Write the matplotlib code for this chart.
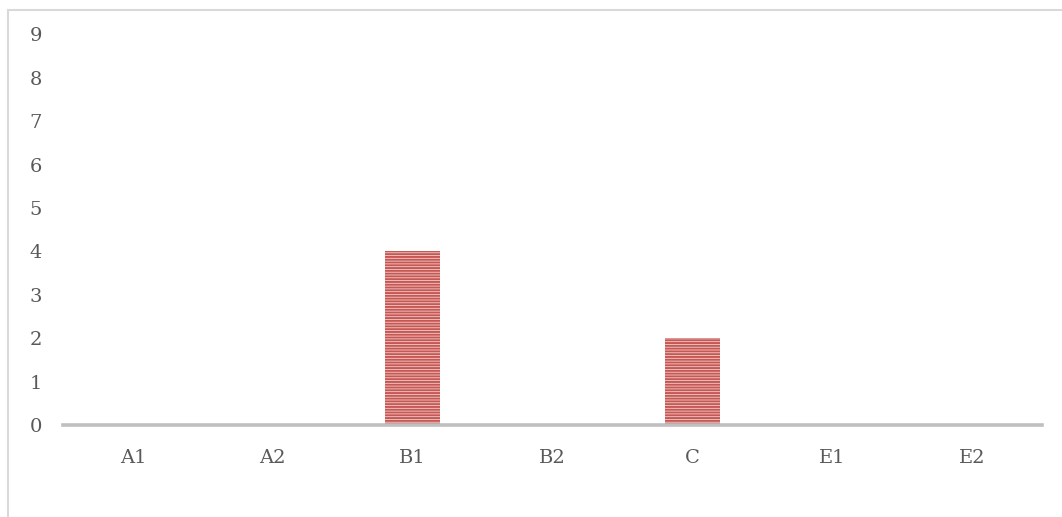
import matplotlib
matplotlib.use("Agg")
import matplotlib.pyplot as plt
from matplotlib.patches import Rectangle

categories = ["A1", "A2", "B1", "B2", "C", "E1", "E2"]
values = [0, 0, 4, 0, 2, 0, 0]
y_ticks = list(range(0, 10))

W, H = 1062, 517
fig = plt.figure(figsize=(W / 100, H / 100), dpi=100)
fig.patch.set_facecolor("white")

# outer chart frame (runs off the right and bottom edges)
fig.patches.append(Rectangle((7.5 / W, -0.1), 1.2, 1 - 9.5 / H + 0.1,
                             transform=fig.transFigure, fill=False,
                             edgecolor="#d9d9d9", linewidth=1.5))

left, right, top, base = 63, 1042, 34.4, 425
ax = fig.add_axes([left / W, 1 - base / H, (right - left) / W, (base - top) / H])
ax.set_facecolor("none")

x = list(range(len(categories)))
plt.rcParams["hatch.linewidth"] = 1.4
ax.bar(x, values, width=0.39, facecolor="#f2cfce", edgecolor="#c65753",
       hatch="------", linewidth=0, zorder=2)

ax.set_xlim(-0.5, len(categories) - 0.5)
ax.set_ylim(0, 9)
ax.axhline(0, color="#bfbfbf", linewidth=2.6, zorder=3, clip_on=False)

for s in ax.spines.values():
    s.set_visible(False)

font = dict(family="DejaVu Serif", size=14, color="#595959")
ax.set_yticks(y_ticks)
ax.set_yticklabels([str(v) for v in y_ticks], **font)
ax.set_xticks(x)
ax.set_xticklabels(categories, **font)
ax.tick_params(axis="y", length=0, pad=15)
ax.tick_params(axis="x", length=0, pad=17)

fig.savefig("out.png", dpi=100, facecolor="white")
